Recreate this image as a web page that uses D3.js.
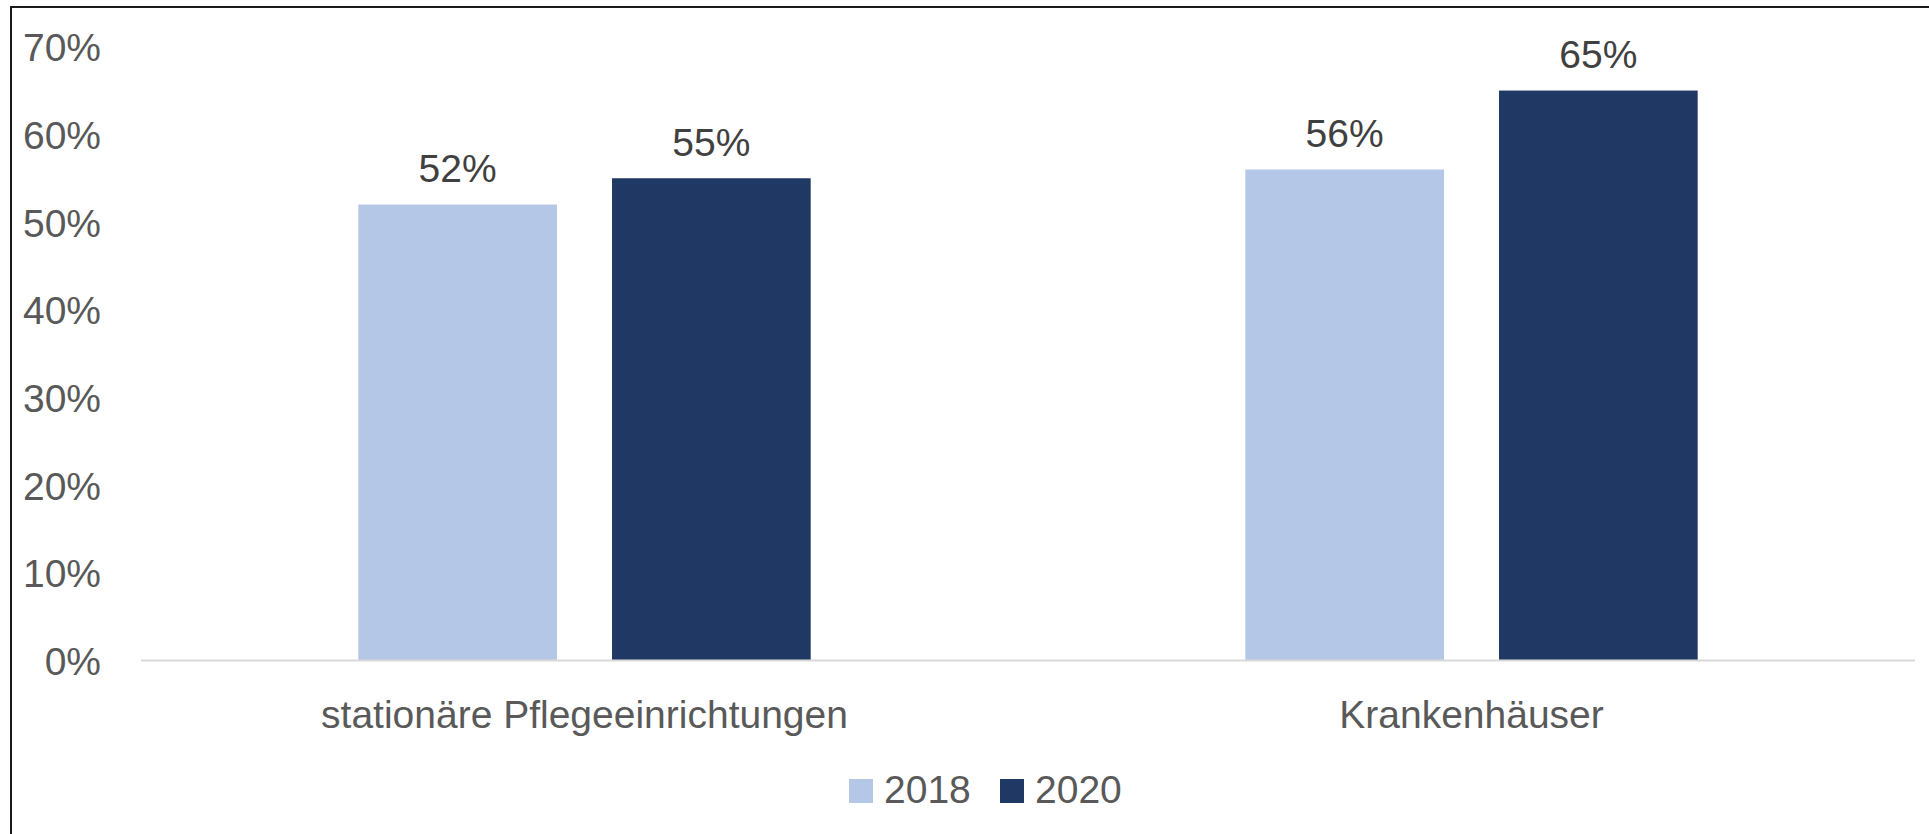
<!DOCTYPE html>
<html>
<head>
<meta charset="utf-8">
<script src="https://cdn.jsdelivr.net/npm/d3@7"></script>
<style>
  html, body { margin: 0; padding: 0; background: #fff; }
  svg { display: block; }
</style>
</head>
<body>
<svg id="chart" width="1929" height="834"></svg>
<script>
const categories = ["stationäre Pflegeeinrichtungen", "Krankenhäuser"];
const seriesNames = ["2018", "2020"];
const values2018 = [0.52, 0.56];
const values2020 = [0.55, 0.65];
const seriesColors = ["#b4c7e7", "#203864"];
const yTicks = [0, 0.1, 0.2, 0.3, 0.4, 0.5, 0.6, 0.7];

const seriesValues = [values2018, values2020];
const FONT = "'Liberation Sans', Arial, sans-serif";
const FS = 39;

const svg = d3.select("#chart");
svg.append("rect").attr("width", 1929).attr("height", 834).attr("fill", "#fff");

// outer frame (top and left visible)
svg.append("rect")
  .attr("x", 11).attr("y", 7).attr("width", 1940).attr("height", 900)
  .attr("fill", "none").attr("stroke", "#1a1a1a").attr("stroke-width", 2);

const x0 = d3.scaleBand().domain(categories).range([141, 1915]).paddingInner(0).paddingOuter(0);
const groupW = x0.bandwidth() * 0.51;
const x1 = d3.scaleBand().domain(seriesNames).range([0, groupW]).paddingInner(0.217).paddingOuter(0);
const y = d3.scaleLinear().domain([0, 0.7]).range([660.6, 46.7]);

// y axis labels
const yAxis = d3.axisLeft(y).tickValues(yTicks).tickFormat(d3.format(".0%")).tickSize(0).tickPadding(0);
const gy = svg.append("g").attr("transform", "translate(101,0)").call(yAxis);
gy.select(".domain").remove();
gy.selectAll("text")
  .attr("font-family", FONT).attr("font-size", FS).attr("fill", "#595959")
  .attr("dy", "0.36em").attr("x", 0);

// bars
const groups = svg.append("g").selectAll("g")
  .data(categories).join("g")
  .attr("transform", c => `translate(${x0(c) + (x0.bandwidth() - groupW) / 2},0)`);

groups.selectAll("rect")
  .data((c, i) => seriesNames.map((s, k) => ({ s, k, v: seriesValues[k][i] })))
  .join("rect")
  .attr("x", d => x1(d.s))
  .attr("y", d => y(d.v))
  .attr("width", x1.bandwidth())
  .attr("height", d => y(0) - y(d.v))
  .attr("fill", d => seriesColors[d.k]);

groups.selectAll("text.lbl")
  .data((c, i) => seriesNames.map((s, k) => ({ s, k, v: seriesValues[k][i] })))
  .join("text").attr("class", "lbl")
  .attr("x", d => x1(d.s) + x1.bandwidth() / 2)
  .attr("y", d => y(d.v) - 22.6)
  .attr("text-anchor", "middle")
  .attr("font-family", FONT).attr("font-size", FS).attr("fill", "#404040")
  .text(d => d3.format(".0%")(d.v));

// x axis line
svg.append("line")
  .attr("x1", x0.range()[0]).attr("x2", x0.range()[1])
  .attr("y1", y(0)).attr("y2", y(0))
  .attr("stroke", "#d9d9d9").attr("stroke-width", 2);

// x axis labels
const xAxis = d3.axisBottom(x0).tickSize(0).tickPadding(0);
const gx = svg.append("g").attr("transform", "translate(0,728)").call(xAxis);
gx.select(".domain").remove();
gx.selectAll("text")
  .attr("font-family", FONT).attr("font-size", FS).attr("fill", "#595959")
  .attr("dy", 0).attr("y", 0);

// legend
const legendX = [849, 1000];
const legend = svg.append("g").selectAll("g").data(seriesNames).join("g")
  .attr("transform", (d, i) => `translate(${legendX[i]},779)`);
legend.append("rect").attr("width", 24).attr("height", 24).attr("fill", (d, i) => seriesColors[i]);
legend.append("text").attr("x", 35).attr("y", 24)
  .attr("font-family", FONT).attr("font-size", FS).attr("fill", "#595959")
  .text(d => d);
</script>
</body>
</html>
